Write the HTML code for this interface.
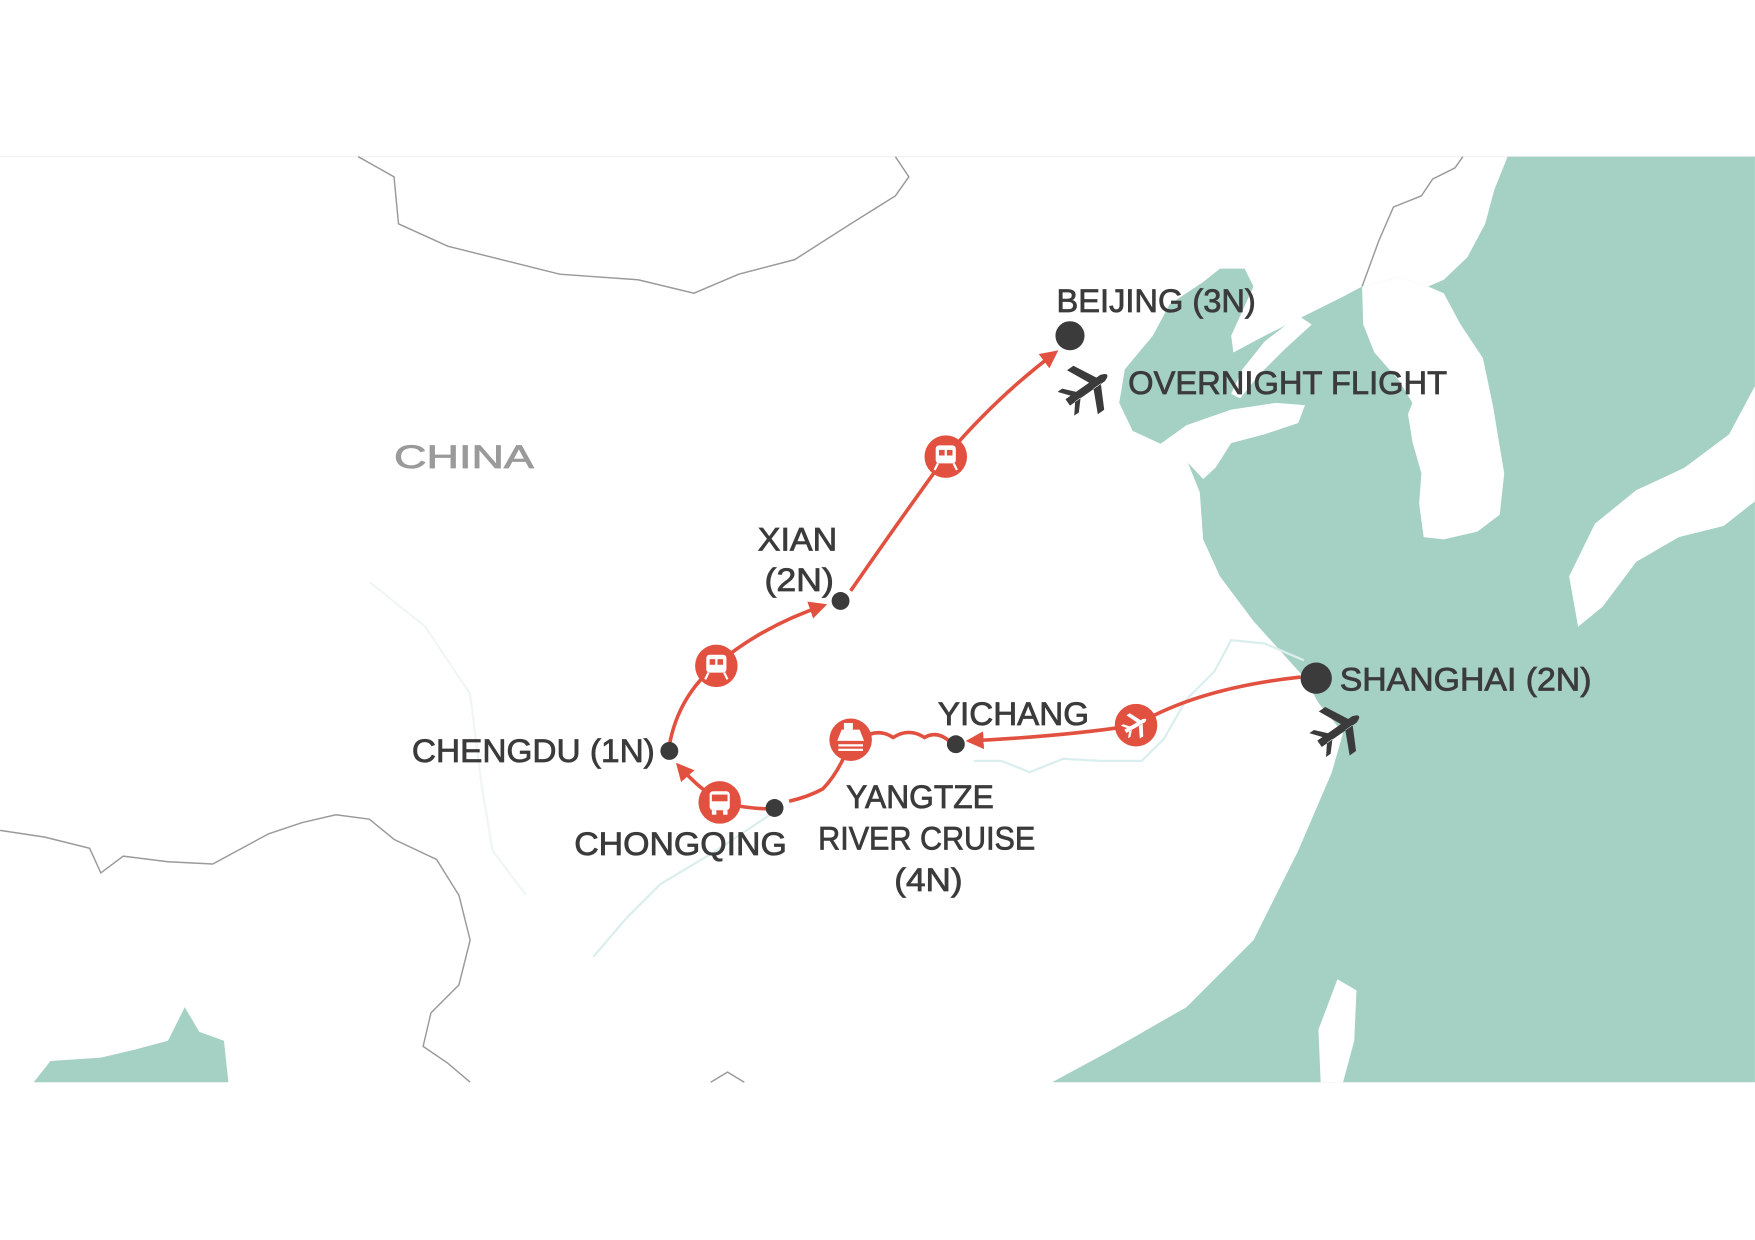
<!DOCTYPE html>
<html><head><meta charset="utf-8"><style>
html,body{margin:0;padding:0;background:#fff}
svg{display:block}
text{font-family:"Liberation Sans",sans-serif;fill:#3b3b3b;font-size:29px;stroke:#3b3b3b;stroke-width:0.7}
</style></head><body>
<svg width="1755" height="1240" viewBox="0 0 1568 1108" xmlns="http://www.w3.org/2000/svg">
<rect width="1568" height="1108" fill="#fff"/>
<line x1="0" y1="140" x2="1568" y2="140" stroke="#f0f0f0" stroke-width="1"/>
<path fill="#a5d0c4" d="M1347,140 L1568,140 L1568,967 L940,967 L990,940 L1060,900 L1120,840 L1160,760 L1190,690 L1200,655 L1178,628 L1165,605 L1120,555 L1090,515 L1075,482 L1072,440 L1060,410 L1040,398 L1012,385 L1000,360 L1005,330 L1030,300 L1045,272 L1075,252 L1090,240 L1112,240 L1120,256 L1110,278 L1100,300 L1102,315 L1130,300 L1170,280 L1200,265 L1217,256 L1250,248 L1276,256 L1290,250 L1311,230 L1327,200 L1335,170 Z"/>
<path fill="#fff" d="M1217,256 L1250,248 L1276,256 L1290,262 L1305,290 L1325,320 L1334,363 L1344,423 L1340,460 L1320,475 L1290,482 L1272,480 L1268,450 L1270,423 L1262,395 L1258,370 L1262,360 L1250,340 L1228,315 L1218,290 Z"/>
<path fill="#fff" d="M1160,282 L1130,305 L1110,330 L1100,352 L1108,356 L1125,335 L1148,312 L1172,290 Z"/>
<path fill="#fff" d="M1035,398 L1060,380 L1100,366 L1140,360 L1166,362 L1160,378 L1130,388 L1100,396 L1086,418 L1075,428 L1060,412 Z"/>
<path fill="#fff" d="M1568,345 L1545,388 L1505,418 L1462,438 L1425,468 L1402,515 L1410,560 L1432,542 L1462,502 L1500,480 L1540,470 L1568,448 Z"/>
<path fill="#fff" d="M1195,875 L1212,885 L1210,930 L1200,967 L1180,967 L1178,920 Z"/>
<path fill="#a5d0c4" d="M30,967 L45,948 L90,945 L120,938 L150,930 L165,900 L178,922 L200,930 L204,967 Z"/>
<g fill="none" stroke="#9a9a9a" stroke-width="1.3">
<path d="M320,140 L352,158 L356,200 L400,220 L500,245 L570,250 L620,262 L660,245 L710,232 L760,200 L800,175 L812,158 L800,140"/>
<path d="M0,742 L40,748 L80,758 L90,780 L110,765 L150,770 L190,772 L240,745 L270,735 L300,728 L330,732 L352,750 L390,768 L410,800 L420,840 L410,880 L385,905 L378,935 L400,950 L420,967"/>
<path d="M1217,256 L1232,215 L1245,185 L1270,175 L1280,160 L1300,150 L1307,140"/>
<path d="M635,967 L650,958 L665,967"/>
</g>
<g fill="none" stroke="#dbeeee" stroke-width="2">
<path d="M1165,590 L1130,575 L1100,572 L1085,600 L1060,625 L1040,660 L1020,680 L985,680 L950,678 L920,690 L895,680 L870,680"/>
<path d="M700,720 L640,760 L590,790 L560,820 L530,855"/>
</g>
<g fill="none" stroke="#f0f5f5" stroke-width="2">
<path d="M330,520 L380,560 L420,620 L430,700 L440,760 L470,800"/>
</g>
<defs><marker id="ah" viewBox="0 0 10 10" refX="8" refY="5" markerWidth="5" markerHeight="5" orient="auto"><path d="M0,0 L10,5 L0,10 Z" fill="#e2503f"/></marker>
<path id="pl" d="M-22,-3.5 L16,-3.5 Q26,0 16,3.5 L-22,3.5 Z M4,-3 L-6,-24 L1,-24 L12,-3 Z M4,3 L-6,24 L1,24 L12,3 Z M-16,-3 L-24,-13 L-19,-13 L-10,-3 Z M-16,3 L-24,13 L-19,13 L-10,3 Z"/></defs>
<g fill="none" stroke="#e2503f" stroke-width="3.2">
<path d="M1162,605 Q1070,615 1015,648 Q950,658 866,662" marker-end="url(#ah)"/>
<path d="M850,664 Q838,652 826,659 Q812,650 798,659 Q784,650 770,660"/>
<path d="M760,662 Q750,690 735,705 Q722,712 705,716"/>
<path d="M690,723 Q660,722 642,716 Q622,702 606,684" marker-end="url(#ah)"/>
<path d="M598,666 Q606,622 640,594 Q680,560 736,541" marker-end="url(#ah)"/>
<path d="M760,528 Q800,470 845,408 Q890,355 943,315" marker-end="url(#ah)"/>
</g>
<g fill="#e2503f">
<circle cx="1015" cy="648" r="19"/><circle cx="760" cy="661" r="19"/>
<circle cx="643" cy="717" r="19"/><circle cx="640" cy="595" r="19"/><circle cx="845" cy="408" r="19"/>
</g>
<use href="#pl" fill="#fff" transform="translate(1015,648) rotate(-30) scale(0.5)"/>
<g fill="#fff">
<path d="M752,652 L768,652 L772,662 L748,662 Z"/><rect x="754" y="646" width="8" height="6"/><rect x="749" y="665" width="22" height="2"/><rect x="749" y="669" width="22" height="2"/>
<rect x="634" y="707" width="18" height="17" rx="3"/><rect x="636" y="724" width="4" height="4"/><rect x="646" y="724" width="4" height="4"/>
<rect x="631" y="585" width="18" height="16" rx="3"/><path d="M633,601 L630,607 M647,601 L650,607" stroke="#fff" stroke-width="2"/>
<rect x="836" y="398" width="18" height="16" rx="3"/><path d="M838,414 L835,420 M852,414 L855,420" stroke="#fff" stroke-width="2"/>
</g>
<g fill="#e2503f"><rect x="636" y="710" width="14" height="6"/><rect x="634" y="589" width="5" height="5"/><rect x="641" y="589" width="5" height="5"/><rect x="839" y="402" width="5" height="5"/><rect x="846" y="402" width="5" height="5"/></g>
<g fill="#3b3b3b">
<circle cx="956" cy="300" r="13"/><circle cx="1176" cy="606" r="14"/>
<circle cx="751" cy="537" r="8"/><circle cx="854" cy="665" r="8"/><circle cx="692" cy="722" r="8"/><circle cx="598" cy="671" r="8"/>
</g>
<use href="#pl" fill="#3b3b3b" transform="translate(972,347) rotate(-35)"/>
<use href="#pl" fill="#3b3b3b" transform="translate(1197,652) rotate(-35)"/>
<text x="944" y="279" textLength="178" lengthAdjust="spacingAndGlyphs">BEIJING (3N)</text>
<text x="1008" y="352" textLength="285" lengthAdjust="spacingAndGlyphs">OVERNIGHT FLIGHT</text>
<text x="352" y="418" font-size="40" style="fill:#9a9a9a;stroke:#9a9a9a" textLength="125" lengthAdjust="spacingAndGlyphs">CHINA</text>
<text x="677" y="492" textLength="71" lengthAdjust="spacingAndGlyphs">XIAN</text>
<text x="683" y="528" textLength="62" lengthAdjust="spacingAndGlyphs">(2N)</text>
<text x="1197" y="617" textLength="225" lengthAdjust="spacingAndGlyphs">SHANGHAI (2N)</text>
<text x="838" y="648" textLength="135" lengthAdjust="spacingAndGlyphs">YICHANG</text>
<text x="368" y="681" textLength="217" lengthAdjust="spacingAndGlyphs">CHENGDU (1N)</text>
<text x="756" y="722" textLength="132" lengthAdjust="spacingAndGlyphs">YANGTZE</text>
<text x="731" y="759" textLength="194" lengthAdjust="spacingAndGlyphs">RIVER CRUISE</text>
<text x="799" y="796" textLength="61" lengthAdjust="spacingAndGlyphs">(4N)</text>
<text x="513" y="764" textLength="190" lengthAdjust="spacingAndGlyphs">CHONGQING</text>
</svg>
</body></html>
